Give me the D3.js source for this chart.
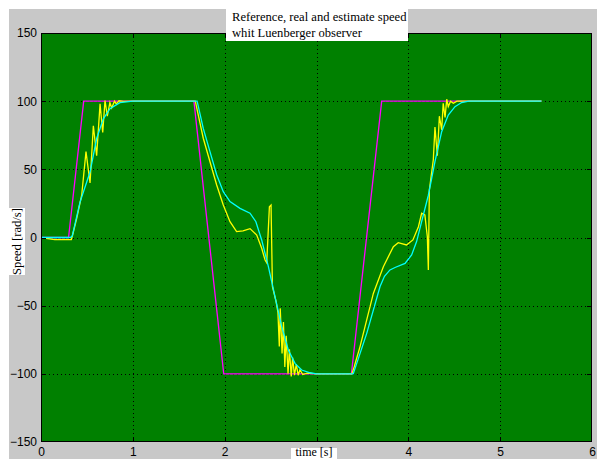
<!DOCTYPE html>
<html>
<head>
<meta charset="utf-8">
<script src="https://cdn.jsdelivr.net/npm/d3@7"></script>
<style>
body { margin: 0; background: #fff; }
.tick-label { font-family: "Liberation Sans", Arial, sans-serif; font-size: 12px; fill: #000; }
.boxed { font-family: "Liberation Serif", "Times New Roman", serif; font-size: 12.6px; fill: #000; }
.grid-line { stroke: #000; stroke-width: 1; stroke-dasharray: 1,3; }
</style>
</head>
<body>
<svg id="chart" width="597" height="459"></svg>
<script>
// Axis ticks (the "3" label sits under the x label box in the original)
const xTicks = [0, 1, 2, 3, 4, 5, 6];
const xTickLabels = ['0', '1', '2', '', '4', '5', '6'];
const yTicks = [-150, -100, -50, 0, 50, 100, 150];

// Reference speed (magenta)
const refT = [0, 0.30, 0.465, 1.665, 1.99, 3.38, 3.71, 5.45];
const refV = [0, 0, 100, 100, -100, -100, 100, 100];

// Real speed (yellow)
const realT = [0, 0.15, 0.33, 0.345, 0.389, 0.443, 0.49, 0.534, 0.57, 0.606, 0.643, 0.672, 0.697, 0.722, 0.75, 0.77, 0.80, 0.82, 0.85, 0.9, 1.0,
    1.68, 1.767, 1.84, 1.913, 1.985, 2.058, 2.13, 2.2, 2.276, 2.349, 2.403, 2.44, 2.458, 2.487, 2.505, 2.52, 2.56, 2.58, 2.595, 2.605,
    2.625, 2.64, 2.655, 2.67, 2.69, 2.705, 2.725, 2.74, 2.76, 2.78, 2.80, 2.82, 2.85, 2.9, 3.0,
    3.385, 3.41, 3.474, 3.619, 3.728, 3.837, 3.89, 3.98, 4.05, 4.11, 4.145, 4.18, 4.207, 4.218, 4.229, 4.272, 4.29, 4.316, 4.338,
    4.363, 4.38, 4.40, 4.418, 4.435, 4.46, 4.49, 4.53, 4.6, 5.45];
const realV = [0, -1.5, -1.5, 2, 14, 31, 63, 40, 82, 60, 98, 77, 100.5, 89, 99, 95, 100, 98, 100.3, 99.8, 100,
    100, 72.8, 55.6, 38.5, 23.8, 11.6, 4.3, 4.8, 6.5, 1.8, -7.9, -16.5, -18.5, 22.6, 23.8, -36, -47, -55, -80, -52,
    -85, -62, -95, -72, -100, -82, -102, -88, -101, -93, -101, -97, -100.5, -99.5, -100,
    -100, -95, -80, -41, -21.4, -6.7, -3.8, -5.5, -1.8, 7.9, 17.8, 16.5, 0.6, -23.8, 35, 57, 81, 60, 89,
    79, 98.4, 88, 101.4, 96, 100, 98.5, 100, 100, 100];

// Estimated speed, Luenberger observer (cyan)
const estT = [0, 0.32, 0.34, 0.425, 0.534, 0.606, 0.679, 0.751, 0.86, 1.0,
    1.70, 1.767, 1.84, 1.913, 1.985, 2.058, 2.167, 2.276, 2.34, 2.403, 2.476, 2.548, 2.621, 2.693, 2.766, 2.839, 2.93, 3.0,
    3.40, 3.547, 3.692, 3.74, 3.80, 3.855, 3.964, 4.036, 4.09, 4.145, 4.218, 4.29, 4.363, 4.435, 4.508, 4.58, 4.66, 5.45];
const estV = [0, 0, 1, 26, 48, 72.6, 87, 94.5, 98.9, 100,
    100, 80, 63, 46, 33.6, 26.3, 21.4, 17.8, 11.6, -1.8, -21.4, -43.4, -65.4, -82.5, -92.3, -97.2, -99.2, -100,
    -100, -70.3, -36, -28.5, -23.8, -22, -19, -12.8, -3, 11.6, 31, 55.6, 77.6, 89.8, 96, 99, 100, 100];

const titleLines = ["Reference, real and estimate speed", "whit Luenberger observer"];
const yLabel = "Speed [rad/s]";
const xLabel = "time [s]";

const svg = d3.select('#chart');
const plot = { left: 41, top: 33, right: 592, bottom: 442 };

const x = d3.scaleLinear().domain([0, 6]).range([plot.left, plot.right]);
const y = d3.scaleLinear().domain([-150, 150]).range([plot.bottom, plot.top]);

// figure background
svg.append('rect')
    .attr('x', 9).attr('y', 9)
    .attr('width', 597 - 9).attr('height', 459 - 9)
    .attr('fill', '#c8c8c8');

// plot area
svg.append('rect')
    .attr('x', plot.left).attr('y', plot.top)
    .attr('width', plot.right - plot.left).attr('height', plot.bottom - plot.top)
    .attr('fill', '#008000');

// dotted grid
svg.selectAll('.vgrid')
    .data(xTicks.slice(1, -1))
    .enter().append('line')
    .attr('class', 'grid-line')
    .attr('x1', d => Math.round(x(d)) + 0.5).attr('x2', d => Math.round(x(d)) + 0.5)
    .attr('y1', plot.top).attr('y2', plot.bottom);
svg.selectAll('.hgrid')
    .data(yTicks.slice(1, -1))
    .enter().append('line')
    .attr('class', 'grid-line')
    .attr('x1', plot.left).attr('x2', plot.right)
    .attr('y1', d => Math.round(y(d)) + 0.5).attr('y2', d => Math.round(y(d)) + 0.5);

// series
const line = d3.line().x(d => x(d[0])).y(d => y(d[1]));
const series = [
    [refT, refV, '#ff00ff'],
    [realT, realV, '#ffff00'],
    [estT, estV, '#00ffff']
];
for (let s of series) {
    svg.append('path')
        .datum(d3.zip(s[0], s[1]))
        .attr('d', line)
        .attr('fill', 'none')
        .attr('stroke', s[2])
        .attr('stroke-width', 1.3);
}

// frame and inner ticks
svg.append('rect')
    .attr('x', plot.left + 0.5).attr('y', plot.top + 0.5)
    .attr('width', plot.right - plot.left - 1).attr('height', plot.bottom - plot.top - 1)
    .attr('fill', 'none').attr('stroke', '#000');

svg.append('g')
    .attr('transform', `translate(0,${plot.bottom})`)
    .call(d3.axisBottom(x).tickValues(xTicks).tickFormat((d, i) => xTickLabels[i]).tickSize(0).tickPadding(5))
    .call(g => g.select('.domain').remove())
    .call(g => g.selectAll('text').attr('class', 'tick-label').attr('font-size', null).attr('font-family', null));
svg.append('g')
    .attr('transform', `translate(${plot.left},0)`)
    .call(d3.axisLeft(y).tickValues(yTicks).tickSize(0).tickPadding(4))
    .call(g => g.select('.domain').remove())
    .call(g => g.selectAll('text').attr('class', 'tick-label').attr('font-size', null).attr('font-family', null));

const tickLen = 5;
svg.selectAll('.xtick')
    .data(xTicks.slice(1, -1))
    .enter().append('path')
    .attr('stroke', '#000')
    .attr('d', d => {
        const px = Math.round(x(d)) + 0.5;
        return `M${px},${plot.bottom}v${-tickLen}M${px},${plot.top}v${tickLen}`;
    });
svg.selectAll('.ytick')
    .data(yTicks.slice(1, -1))
    .enter().append('path')
    .attr('stroke', '#000')
    .attr('d', d => {
        const py = Math.round(y(d)) + 0.5;
        return `M${plot.left},${py}h${tickLen}M${plot.right},${py}h${-tickLen}`;
    });

// title box
svg.append('rect')
    .attr('x', 226).attr('y', 9).attr('width', 182).attr('height', 32)
    .attr('fill', '#fff');
svg.selectAll('.title')
    .data(titleLines)
    .enter().append('text')
    .attr('class', 'boxed')
    .attr('x', 232)
    .attr('y', (d, i) => 21 + i * 15.5)
    .text(d => d);

// y label box
svg.append('rect')
    .attr('x', 9).attr('y', 208).attr('width', 16).attr('height', 67)
    .attr('fill', '#fff');
svg.append('text')
    .attr('class', 'boxed')
    .attr('transform', 'translate(21,241.5) rotate(-90)')
    .attr('text-anchor', 'middle')
    .text(yLabel);

// x label box
svg.append('rect')
    .attr('x', 291).attr('y', 448).attr('width', 46).attr('height', 11)
    .attr('fill', '#fff');
svg.append('text')
    .attr('class', 'boxed')
    .attr('x', 314)
    .attr('y', 456)
    .attr('font-size', '12px')
    .style('font-size', '12px')
    .attr('text-anchor', 'middle')
    .text(xLabel);
</script>
</body>
</html>
